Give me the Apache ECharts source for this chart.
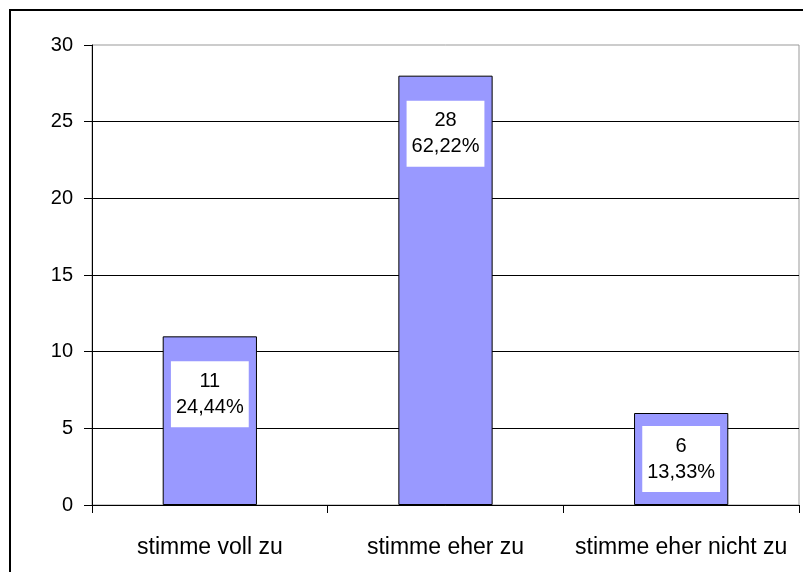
<!DOCTYPE html>
<html>
<head>
<meta charset="utf-8">
<script src="https://cdn.jsdelivr.net/npm/echarts@6/dist/echarts.min.js"></script>
<style>
  html, body { margin: 0; padding: 0; background: #fff; }
  #chart { width: 803px; height: 572px; }
</style>
</head>
<body>
<div id="chart"></div>
<script>
// Antworten und Anzahl
var categories = ['stimme voll zu', 'stimme eher zu', 'stimme eher nicht zu']
var counts = [11, 28, 6]
var percents = ['24,44%', '62,22%', '13,33%']
var yTicks = [0, 5, 10, 15, 20, 25, 30]

var font = '"Liberation Sans", Arial, sans-serif'

var barData = counts.map(function (v, i) {
  // kleiner Balken: Beschriftung mittig
  var pos = v < 8 ? 'inside' : 'insideTop'
  return { value: v, label: { position: pos } }
})

var myChart = echarts.init(document.getElementById('chart'))
myChart.setOption({
  animation: false,
  backgroundColor: '#fff',
  graphic: [{
    type: 'rect',
    shape: { x: 10, y: 10, width: 820, height: 600 },
    style: { fill: null, stroke: '#000', lineWidth: 2 },
    silent: true
  }],
  grid: {
    left: 92,
    right: 4,
    top: 45,
    bottom: 67,
    show: true,
    borderColor: '#999',
    borderWidth: 1
  },
  xAxis: {
    type: 'category',
    data: categories,
    boundaryGap: true,
    axisLine: { lineStyle: { color: '#000', width: 1 } },
    axisTick: { show: true, length: 8, lineStyle: { color: '#000' } },
    axisLabel: {
      color: '#000',
      fontSize: 23,
      fontFamily: font,
      margin: 31,
      interval: 0
    }
  },
  yAxis: {
    type: 'value',
    min: yTicks[0],
    max: yTicks[yTicks.length - 1],
    interval: 5,
    axisLine: { show: true, lineStyle: { color: '#000', width: 1 } },
    axisTick: { show: true, length: 8, lineStyle: { color: '#000' } },
    axisLabel: {
      color: '#000',
      fontSize: 20,
      fontFamily: font,
      margin: 19
    },
    splitLine: { showMaxLine: false, lineStyle: { color: '#000', width: 1 } }
  },
  series: [{
    type: 'bar',
    data: barData,
    barWidth: '40%',
    itemStyle: {
      color: '#9999ff',
      borderColor: '#000',
      borderWidth: 1
    },
    label: {
      show: true,
      distance: 25,
      formatter: function (p) {
        return p.value + '\n' + percents[p.dataIndex]
      },
      color: '#000',
      fontSize: 20,
      lineHeight: 26,
      fontFamily: font,
      backgroundColor: '#fff',
      padding: [7, 5],
      align: 'center'
    }
  }]
})
</script>
</body>
</html>
